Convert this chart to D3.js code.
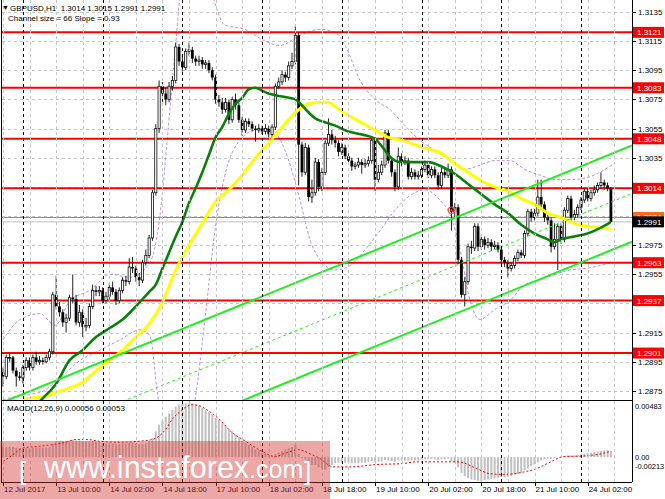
<!DOCTYPE html>
<html><head><meta charset="utf-8">
<script src="https://cdn.jsdelivr.net/npm/d3@7"></script>
<style>body{margin:0;background:#fff}svg{display:block}text{font-family:"Liberation Sans",Arial,sans-serif}</style>
</head><body><svg id="c" width="665" height="499"></svg>
<script>
// ---------- DATA ----------
const firstOpen = 1.2888;
const closes = [1.2885,1.2898,1.2898,1.2889,1.2885,1.2884,1.2891,1.2896,1.2891,1.2898,
1.2895,1.2896,1.2895,1.2898,1.2902,1.2941,1.2933,1.2929,1.2922,1.2925,
1.2939,1.2938,1.2922,1.2929,1.2919,1.2920,1.2933,1.2944,1.2943,1.2944,
1.2937,1.2940,1.2946,1.2943,1.2937,1.2944,1.2951,1.2950,1.2960,1.2959,
1.2953,1.2951,1.2963,1.2968,1.2980,1.3011,1.3055,1.3084,1.3079,1.3075,
1.3084,1.3088,1.3111,1.3101,1.3097,1.3108,1.3109,1.3103,1.3101,1.3102,
1.3099,1.3100,1.3095,1.3090,1.3075,1.3073,1.3068,1.3073,1.3061,1.3075,
1.3071,1.3061,1.3054,1.3060,1.3058,1.3055,1.3054,1.3055,1.3053,1.3055,
1.3051,1.3056,1.3084,1.3087,1.3092,1.3090,1.3098,1.3101,1.3119,1.3044,
1.3025,1.3042,1.3008,1.3011,1.3032,1.3015,1.3025,1.3045,1.3051,1.3047,
1.3045,1.3039,1.3042,1.3036,1.3033,1.3029,1.3030,1.3032,1.3030,1.3031,
1.3033,1.3047,1.3020,1.3025,1.3030,1.3052,1.3033,1.3025,1.3015,1.3036,
1.3032,1.3033,1.3022,1.3025,1.3022,1.3023,1.3027,1.3030,1.3023,1.3027,
1.3023,1.3016,1.3025,1.3023,1.3027,1.2998,1.3001,1.2965,1.2941,1.2950,
1.2974,1.2973,1.2988,1.2974,1.2979,1.2975,1.2977,1.2974,1.2975,1.2972,
1.2965,1.2963,1.2959,1.2961,1.2966,1.2970,1.2968,1.2983,1.2998,1.2994,
1.2997,1.3008,1.3003,1.2994,1.2992,1.2974,1.2979,1.2988,1.2979,1.2999,
1.3007,1.2994,1.2996,1.3001,1.3006,1.3012,1.3007,1.3011,1.3013,1.3016,
1.3018,1.3016,1.3014,1.2991];
const highs = [1.2891,1.2900,1.2901,1.2899,1.2891,1.2888,1.2893,1.2898,1.2898,1.2900,
1.2902,1.2899,1.2898,1.2900,1.2904,1.2943,1.2954,1.2936,1.2931,1.2928,
1.2941,1.2955,1.2941,1.2934,1.2931,1.2925,1.2935,1.2948,1.2947,1.2947,
1.2946,1.2943,1.2949,1.2950,1.2945,1.2946,1.2953,1.2954,1.2966,1.2967,
1.2961,1.2956,1.2965,1.2972,1.2982,1.3013,1.3058,1.3088,1.3087,1.3083,
1.3087,1.3091,1.3114,1.3113,1.3106,1.3110,1.3114,1.3111,1.3105,1.3105,
1.3104,1.3102,1.3102,1.3097,1.3092,1.3078,1.3076,1.3076,1.3075,1.3077,
1.3079,1.3073,1.3063,1.3062,1.3062,1.3060,1.3057,1.3058,1.3057,1.3058,
1.3057,1.3058,1.3086,1.3090,1.3095,1.3094,1.3101,1.3107,1.3126,1.3121,
1.3046,1.3045,1.3044,1.3020,1.3035,1.3034,1.3028,1.3047,1.3062,1.3054,
1.3050,1.3047,1.3045,1.3044,1.3038,1.3035,1.3032,1.3035,1.3034,1.3034,
1.3036,1.3049,1.3049,1.3030,1.3033,1.3054,1.3054,1.3035,1.3027,1.3042,
1.3038,1.3036,1.3035,1.3028,1.3027,1.3026,1.3029,1.3033,1.3032,1.3029,
1.3029,1.3025,1.3028,1.3028,1.3031,1.3029,1.3004,1.3003,1.2967,1.2953,
1.2976,1.2978,1.2990,1.2990,1.2982,1.2981,1.2980,1.2979,1.2978,1.2977,
1.2974,1.2967,1.2965,1.2963,1.2968,1.2972,1.2972,1.2985,1.3000,1.3000,
1.3000,1.3020,1.3020,1.3005,1.2996,1.2994,1.2990,1.2990,1.2990,1.3001,
1.3009,1.3009,1.2999,1.3003,1.3008,1.3014,1.3014,1.3013,1.3016,1.3018,
1.3025,1.3020,1.3018,1.3015];
const lows = [1.2878,1.2883,1.2895,1.2887,1.2878,1.2882,1.2880,1.2889,1.2889,1.2889,
1.2893,1.2893,1.2893,1.2894,1.2896,1.2900,1.2931,1.2926,1.2919,1.2915,
1.2923,1.2935,1.2920,1.2919,1.2912,1.2916,1.2918,1.2931,1.2940,1.2940,
1.2935,1.2935,1.2938,1.2941,1.2934,1.2935,1.2942,1.2947,1.2948,1.2956,
1.2950,1.2947,1.2949,1.2961,1.2966,1.2978,1.3009,1.3052,1.3071,1.3071,
1.3073,1.3081,1.3086,1.3098,1.3094,1.3095,1.3105,1.3100,1.3098,1.3098,
1.3096,1.3096,1.3093,1.3088,1.3072,1.3070,1.3065,1.3066,1.3058,1.3059,
1.3068,1.3059,1.3050,1.3052,1.3056,1.3053,1.3046,1.3052,1.3051,1.3051,
1.3049,1.3049,1.3054,1.3082,1.3085,1.3087,1.3088,1.3096,1.3099,1.3016,
1.3022,1.3023,1.3005,1.3004,1.3009,1.3012,1.3012,1.3023,1.3043,1.3044,
1.3042,1.3036,1.3037,1.3034,1.3030,1.3026,1.3027,1.3028,1.3024,1.3028,
1.3029,1.3031,1.3012,1.3018,1.3023,1.3028,1.3031,1.3022,1.3012,1.3013,
1.3029,1.3030,1.3020,1.3020,1.3020,1.3020,1.3021,1.3025,1.3021,1.3021,
1.3021,1.3013,1.3014,1.3021,1.3021,1.2985,1.2994,1.2962,1.2939,1.2933,
1.2948,1.2969,1.2971,1.2971,1.2972,1.2972,1.2973,1.2971,1.2972,1.2970,
1.2962,1.2960,1.2953,1.2957,1.2959,1.2964,1.2966,1.2966,1.2981,1.2991,
1.2992,1.2995,1.3000,1.2991,1.2989,1.2970,1.2972,1.2958,1.2976,1.2977,
1.2997,1.2991,1.2992,1.2994,1.2999,1.3004,1.3005,1.3005,1.3009,1.3011,
1.3014,1.3013,1.3012,1.2991];

const timeLabels = ["12 Jul 2017","13 Jul 10:00","14 Jul 02:00","14 Jul 18:00","17 Jul 10:00","18 Jul 02:00",
  "18 Jul 18:00","19 Jul 10:00","20 Jul 02:00","20 Jul 18:00","21 Jul 10:00","24 Jul 02:00"];
const labelBars = [0,16,32,48,64,80,96,112,128,144,160,176];
const gridBars = d3.range(0, 190, 8);
const daySeparatorBars = [6,30,54,78,102,126,150,174];

const priceTicks = [1.2875,1.2895,1.2915,1.2935,1.2955,1.2975,1.2995,1.3015,1.3035,1.3055,1.3075,1.3095,1.3115,1.3135];
const levels = [1.3121,1.3083,1.3048,1.3014,1.2963,1.2937,1.2901];
const orderLevel = 1.2994;
const bidLevel = 1.2991;
const orderMark = [135, 1.2999];

const channelAnchorBar = 183, channelAnchorPrice = 1.30045, channelSlope = 0.000093, channelHalf = 0.0033;

const greenMA = [[9,1.2863],[12,1.2870],[16,1.2880],[20,1.2896],[24,1.2903],[28,1.2912],[32,1.2918],[36,1.2924],
 [40,1.2933],[44,1.2943],[46,1.2948],[48,1.2959],[50,1.2970],[52,1.2981],[54,1.2991],[56,1.3004],[58,1.3014],
 [60,1.3025],[62,1.3037],[64,1.3049],[66,1.3056],[68,1.3065],[70,1.3072],[72,1.3076],[74,1.3082],[76,1.3083],
 [78,1.3081],[80,1.3079],[84,1.3077],[88,1.3075],[90,1.3071],[92,1.3066],[94,1.3062],[96,1.3060],[100,1.3057],
 [104,1.3053],[108,1.3051],[112,1.3048],[114,1.3043],[116,1.3037],[118,1.3033],[120,1.3032],[124,1.3032],
 [128,1.3032],[132,1.3029],[136,1.3024],[140,1.3017],[144,1.3010],[148,1.3003],[152,1.2997],[156,1.2989],
 [160,1.2983],[164,1.2979],[166,1.2977],[168,1.2979],[172,1.2981],[176,1.2983],[180,1.2987],[183,1.2991]];
const yellowMA = [[6,1.2869],[8,1.2870],[12,1.2871],[16,1.2874],[20,1.2877],[24,1.2881],[28,1.2889],[32,1.2896],
 [36,1.2903],[40,1.2912],[44,1.2921],[48,1.2936],[52,1.2958],[56,1.2975],[60,1.2990],[64,1.3005],[68,1.3013],
 [72,1.3023],[76,1.3035],[80,1.3045],[84,1.3056],[88,1.3066],[92,1.3072],[96,1.3073],[98,1.3073],[100,1.3070],
 [104,1.3064],[108,1.3059],[112,1.3054],[116,1.3049],[120,1.3047],[124,1.3044],[128,1.3041],[132,1.3038],
 [136,1.3031],[140,1.3025],[144,1.3019],[148,1.3015],[152,1.3012],[156,1.3007],[160,1.3003],[164,1.2997],
 [168,1.2994],[172,1.2990],[176,1.2988],[180,1.2987],[183,1.2986]];
const bandUpper = [[0,1.2910],[5.1,1.2924],[11.1,1.2928],[15.7,1.2920],[20.2,1.2937],[26.2,1.2944],[32.2,1.2955],
 [38.2,1.2953],[44.2,1.2963],[47.3,1.2996],[49.7,1.3054],[52.1,1.3116],[53.9,1.3157],[57.8,1.3171],[62.3,1.3150],
 [66.8,1.3126],[72.9,1.3123],[78,1.3116],[83.4,1.3112],[89.4,1.3119],[95.4,1.3123],[100,1.3121],[103,1.3112],
 [107.5,1.3088],[112,1.3075],[116.5,1.3068],[121,1.3057],[125.5,1.3047],[130,1.3040],[134.6,1.3033],[139.1,1.3027],
 [143.6,1.3030],[148.1,1.3033],[152.6,1.3033],[157.1,1.3027],[161.7,1.3023],[166.2,1.3020],[170.7,1.3020],
 [175.2,1.3021],[179.7,1.3025],[183.3,1.3030]];
const bandLower = [[0,1.2869],[5.1,1.2872],[11.1,1.2874],[17.2,1.2884],[23.2,1.2896],[29.2,1.2903],[35.2,1.2910],
 [41.2,1.2917],[44.2,1.2913],[46.7,1.2870],[48.8,1.2848],[54.8,1.2841],[57.8,1.2869],[60.8,1.2924],[63.8,1.2985],
 [66.8,1.3023],[71.3,1.3047],[75.9,1.3054],[80.4,1.3055],[84.9,1.3040],[89.4,1.3006],[92.4,1.2979],[95.4,1.2965],
 [100,1.2958],[104.5,1.2961],[109,1.2972],[113.5,1.2985],[118,1.2999],[122.5,1.3009],[127,1.3013],[131.5,1.3006],
 [134.6,1.2996],[137.6,1.2972],[140.6,1.2937],[143.6,1.2924],[148.1,1.2931],[152.6,1.2937],[157.1,1.2948],
 [161.7,1.2951],[166.2,1.2955],[170.7,1.2958],[175.2,1.2959],[179.7,1.2961],[183.3,1.2963]];

const macdMain = [0.00095,0.0009,0.00095,0.0009,0.00085,0.0008,0.0008,0.0008,0.0008,0.00085,
0.00085,0.00085,0.00085,0.00085,0.0009,0.0012,0.0014,0.00145,0.00145,0.0014,
0.0015,0.00155,0.0015,0.0015,0.00145,0.0014,0.0014,0.00145,0.0014,0.00135,
0.0012,0.0012,0.0012,0.0012,0.00115,0.00115,0.0012,0.0012,0.00125,0.00125,
0.0012,0.00115,0.0012,0.00125,0.0014,0.0017,0.0023,0.0029,0.0033,0.0036,
0.0039,0.0042,0.0045,0.0047,0.00475,0.0048,0.0048,0.0048,0.0047,0.0046,
0.0044,0.0042,0.0040,0.0038,0.0035,0.0033,0.0030,0.0028,0.0025,0.0023,
0.0020,0.0018,0.0015,0.0013,0.0011,0.0009,0.0007,0.0006,0.0004,0.0003,
0.0001,0.00005,0.00025,0.0004,0.00055,0.0007,0.0008,0.0009,0.0011,0.0003,
-0.0001,-0.0002,-0.0005,-0.0007,-0.0007,-0.0009,-0.0010,-0.0011,-0.0009,-0.0007,
-0.00055,-0.0005,-0.0005,-0.0005,-0.0005,-0.00055,-0.00055,-0.00055,-0.0005,-0.0005,
-0.00045,-0.00035,-0.0004,-0.0004,-0.0004,-0.00025,-0.0003,-0.00035,-0.0004,-0.0003,
-0.0003,-0.0003,-0.0003,-0.0003,-0.0003,-0.0003,-0.00025,-0.0002,-0.0002,-0.0002,
-0.0002,-0.00025,-0.0002,-0.0002,-0.00015,-0.0004,-0.0005,-0.0009,-0.0014,-0.0017,
-0.0019,-0.0020,-0.00205,-0.0021,-0.00213,-0.00205,-0.0020,-0.00195,-0.0019,-0.00185,
-0.0018,-0.0018,-0.00175,-0.0017,-0.0016,-0.0015,-0.0014,-0.0012,-0.0010,-0.0008,
-0.00065,-0.00045,-0.0003,-0.0002,-0.00015,-0.00015,-0.0001,0,0.00005,0.0001,
0.00015,0.00015,0.00015,0.0002,0.00025,0.0003,0.00035,0.0004,0.00045,0.0005,
0.00055,0.0006,0.00065,0.00056];
const macdSignal = [[0,-0.0004],[3,0.00021],[6,0.00082],[11,0.00097],[15,0.00112],[19,0.00133],[22,0.00158],
 [25,0.00158],[29,0.00142],[35,0.00133],[41,0.00142],[45,0.00158],[47,0.00188],[49,0.00249],[51,0.0034],
 [53,0.0040],[55,0.00446],[57,0.00467],[59,0.0046],[61,0.0043],[65,0.0034],[69,0.00219],[73,0.00142],
 [78,0.00051],[82,0.00005],[85,0.00036],[89,0.00066],[93,0.00021],[95.4,-0.00011],[98,-0.0007],[99.3,-0.00087],
 [104.4,-0.00087],[112.5,-0.00066],[120.5,-0.00057],[124.5,-0.00042],[130.5,-0.00042],[136.6,-0.00042],
 [138.6,-0.00051],[142.6,-0.00102],[146.6,-0.00148],[150.6,-0.00154],[156.7,-0.00133],[160.7,-0.00102],
 [164.7,-0.00045],[168.7,0.00004],[174.7,0.0001],[180.8,0.00035],[183,0.00053]];
const macdMax = 0.00483, macdMin = -0.00213;

// ---------- SETUP ----------
const svg = d3.select("#c");
const W = 665, H = 499, plotR = 632, mainB = 400, macdT = 401, macdB = 482;
const x = d3.scaleLinear().domain([-0.9, 189.35]).range([0, plotR]);
const y = d3.scaleLinear().domain([1.28688, 1.31432]).range([mainB, 0]);
const my = d3.scaleLinear().domain([macdMin, macdMax]).range([481, 403]);
const opens = closes.map((c, i) => i === 0 ? firstOpen : closes[i - 1]);
const bars = closes.map((c, i) => ({ i, o: opens[i], h: highs[i], l: lows[i], c }));
const tagLevels = levels.concat([orderLevel, bidLevel]);

svg.append("rect").attr("width", W).attr("height", H).attr("fill", "#fff");
const defs = svg.append("defs");
defs.append("clipPath").attr("id", "cm").append("rect").attr("x", 2).attr("y", 0).attr("width", plotR - 2).attr("height", mainB);
defs.append("clipPath").attr("id", "cd").append("rect").attr("x", 2).attr("y", macdT).attr("width", plotR - 2).attr("height", macdB - macdT);

const gm = svg.append("g").attr("clip-path", "url(#cm)");
const gd = svg.append("g").attr("clip-path", "url(#cd)");

// vertical grid
[[0, mainB], [macdT, macdB]].forEach(([t, b]) => {
  svg.append("g").selectAll("line").data(gridBars).join("line")
    .attr("x1", d => Math.round(x(d)) + 0.5).attr("x2", d => Math.round(x(d)) + 0.5)
    .attr("y1", t).attr("y2", b).attr("stroke", "#c6c6c6").attr("stroke-dasharray", "3,3");
  svg.append("g").selectAll("line").data(daySeparatorBars).join("line")
    .attr("x1", d => Math.round(x(d)) + 0.5).attr("x2", d => Math.round(x(d)) + 0.5)
    .attr("y1", t).attr("y2", b).attr("stroke", "#000").attr("stroke-dasharray", "3,3");
});
// horizontal grid
gm.append("g").selectAll("line").data(priceTicks).join("line")
  .attr("x1", 2).attr("x2", plotR).attr("y1", d => Math.round(y(d)) + 0.5).attr("y2", d => Math.round(y(d)) + 0.5)
  .attr("stroke", "#c6c6c6").attr("stroke-dasharray", "3,3");

// bands
const pl = d3.line().x(d => x(d[0])).y(d => y(d[1])).curve(d3.curveMonotoneX);
[bandUpper, bandLower].forEach(b => gm.append("path").attr("d", pl(b)).attr("fill", "none")
  .attr("stroke", "#c38be6").attr("stroke-width", 1).attr("stroke-dasharray", "3,2"));

// levels
gm.append("line").attr("x1", 2).attr("x2", plotR).attr("y1", y(bidLevel)).attr("y2", y(bidLevel)).attr("stroke", "#c0c0c0").attr("stroke-width", 1);
gm.append("line").attr("x1", 2).attr("x2", plotR).attr("y1", y(orderLevel)).attr("y2", y(orderLevel)).attr("stroke", "#ff6a1a").attr("stroke-width", 1);
gm.append("g").selectAll("line").data(levels).join("line")
  .attr("x1", 2).attr("x2", plotR).attr("y1", d => y(d)).attr("y2", d => y(d))
  .attr("stroke", "#ff0000").attr("stroke-width", 2);

// candles
const cg = gm.append("g");
cg.selectAll("line").data(bars).join("line")
  .attr("x1", d => x(d.i)).attr("x2", d => x(d.i)).attr("y1", d => y(d.h)).attr("y2", d => y(d.l))
  .attr("stroke", "#222").attr("stroke-width", 1);
cg.selectAll("rect").data(bars).join("rect")
  .attr("x", d => x(d.i) - (d.c >= d.o ? 1.1 : 1.4))
  .attr("width", d => d.c >= d.o ? 2.2 : 2.8)
  .attr("y", d => y(Math.max(d.o, d.c)))
  .attr("height", d => Math.max(0.8, Math.abs(y(d.o) - y(d.c))))
  .attr("fill", d => d.c >= d.o ? "#fff" : "#000")
  .attr("stroke", d => d.c >= d.o ? "#111" : "none").attr("stroke-width", 0.8);

// MAs
gm.append("path").attr("d", pl(yellowMA)).attr("fill", "none").attr("stroke", "#ffff00").attr("stroke-width", 3);
gm.append("path").attr("d", pl(greenMA)).attr("fill", "none").attr("stroke", "#0a800a").attr("stroke-width", 2.6);

// channel
const chP = (i, off) => channelAnchorPrice + channelSlope * (i - channelAnchorBar) + off;
const [i0, i1] = x.domain();
[[channelHalf, 2, null], [0, 1, "3,3"], [-channelHalf, 2, null]].forEach(([off, w, dash]) => {
  gm.append("line").attr("x1", x(i0)).attr("x2", x(i1)).attr("y1", y(chP(i0, off))).attr("y2", y(chP(i1, off)))
    .attr("stroke", "#1ef01e").attr("stroke-width", w).attr("stroke-dasharray", dash);
});

// order marker
gm.append("circle").attr("cx", x(orderMark[0])).attr("cy", y(orderMark[1])).attr("r", 3.2)
  .attr("fill", "none").attr("stroke", "#ff4a3a").attr("stroke-width", 1.2);
gm.append("circle").attr("cx", x(orderMark[0])).attr("cy", y(orderMark[1])).attr("r", 1)
  .attr("fill", "#ff4a3a");

// MACD
gd.append("g").selectAll("rect").data(macdMain).join("rect")
  .attr("x", (d, i) => x(i) - 1).attr("width", 2)
  .attr("y", d => Math.min(my(d), my(0))).attr("height", d => Math.abs(my(d) - my(0)))
  .attr("fill", "#c0c0c0");
gd.append("path").attr("d", d3.line().x(d => x(d[0])).y(d => my(d[1])).curve(d3.curveMonotoneX)(macdSignal))
  .attr("fill", "none").attr("stroke", "#ff0000").attr("stroke-width", 1).attr("stroke-dasharray", "2,2");

// frames
svg.append("line").attr("x1", 1.5).attr("x2", 1.5).attr("y1", 0).attr("y2", macdB).attr("stroke", "#000");
svg.append("line").attr("x1", plotR + 0.5).attr("x2", plotR + 0.5).attr("y1", 0).attr("y2", macdB).attr("stroke", "#000");
svg.append("line").attr("x1", 1).attr("x2", plotR).attr("y1", mainB + 0.5).attr("y2", mainB + 0.5).attr("stroke", "#000");
svg.append("line").attr("x1", 1).attr("x2", plotR).attr("y1", macdB + 0.5).attr("y2", macdB + 0.5).attr("stroke", "#000");

// price axis (labels hidden where a level tag covers them)
const visibleTicks = priceTicks.filter(t => !tagLevels.some(l => Math.abs(y(l) - y(t)) < 8));
const pa = svg.append("g");
pa.selectAll("line").data(priceTicks).join("line")
  .attr("x1", plotR).attr("x2", plotR + 4).attr("y1", d => Math.round(y(d)) + 0.5).attr("y2", d => Math.round(y(d)) + 0.5).attr("stroke", "#000");
pa.selectAll("text").data(visibleTicks).join("text")
  .attr("x", plotR + 6).attr("y", d => y(d) + 3).attr("font-size", 8).attr("fill", "#000").text(d => d.toFixed(4));
function tag(v, bg, fg) {
  const g = svg.append("g");
  g.append("rect").attr("x", plotR + 1).attr("y", y(v) - 5.5).attr("width", 31).attr("height", 11).attr("fill", bg);
  g.append("text").attr("x", plotR + 5).attr("y", y(v) + 3).attr("font-size", 8).attr("fill", fg).text(v.toFixed(4));
}
levels.forEach(v => tag(v, "#ff0000", "#fff"));
tag(orderLevel, "#ff6a1a", "#fff");
tag(bidLevel, "#000", "#fff");

// MACD axis
[[macdMax, 6], [0, 3], [macdMin, -12]].forEach(([v, dy]) => {
  svg.append("text").attr("x", plotR + 3).attr("y", my(v) + dy).attr("font-size", 7.4).attr("fill", "#000")
    .text(v === 0 ? "0.00" : v.toFixed(5));
});

// time axis
const ta = svg.append("g");
ta.selectAll("line").data(labelBars).join("line")
  .attr("x1", d => Math.round(x(d)) + 0.5).attr("x2", d => Math.round(x(d)) + 0.5).attr("y1", macdB).attr("y2", macdB + 4).attr("stroke", "#000");
ta.selectAll("text").data(labelBars).join("text")
  .attr("x", d => x(d) + 1).attr("y", 492).attr("font-size", 8).attr("fill", "#000").text((d, k) => timeLabels[k]);

// headers
svg.append("text").attr("x", 2).attr("y", 10).attr("font-size", 7).attr("fill", "#000").text("▼");
svg.append("text").attr("x", 10).attr("y", 11).attr("font-size", 8).attr("fill", "#000").attr("xml:space", "preserve")
  .text("GBPUSD,H1  1.3014 1.3015 1.2991 1.2991");
svg.append("text").attr("x", 8).attr("y", 21).attr("font-size", 8).attr("fill", "#000").text("Channel size = 66 Slope = 0.93");
svg.append("text").attr("x", 7).attr("y", 411).attr("font-size", 8).attr("fill", "#000").text("MACD(12,26,9) 0.00056 0.00053");

// watermark
svg.append("rect").attr("x", 0).attr("y", 441).attr("width", 330).attr("height", 58).attr("fill", "rgba(210,45,45,0.42)");
const wm = svg.append("text").attr("y", 478).attr("fill", "#fff");
wm.append("tspan").attr("x", 19).attr("font-size", 26).attr("dy", 2).text("[");
wm.append("tspan").attr("x", 44).attr("dy", -2).attr("font-size", 30.5).text("www.instaforex");
wm.append("tspan").attr("font-size", 25).text(".com");
wm.append("tspan").attr("x", 304).attr("dy", 2).attr("font-size", 26).text("]");
</script></body></html>
